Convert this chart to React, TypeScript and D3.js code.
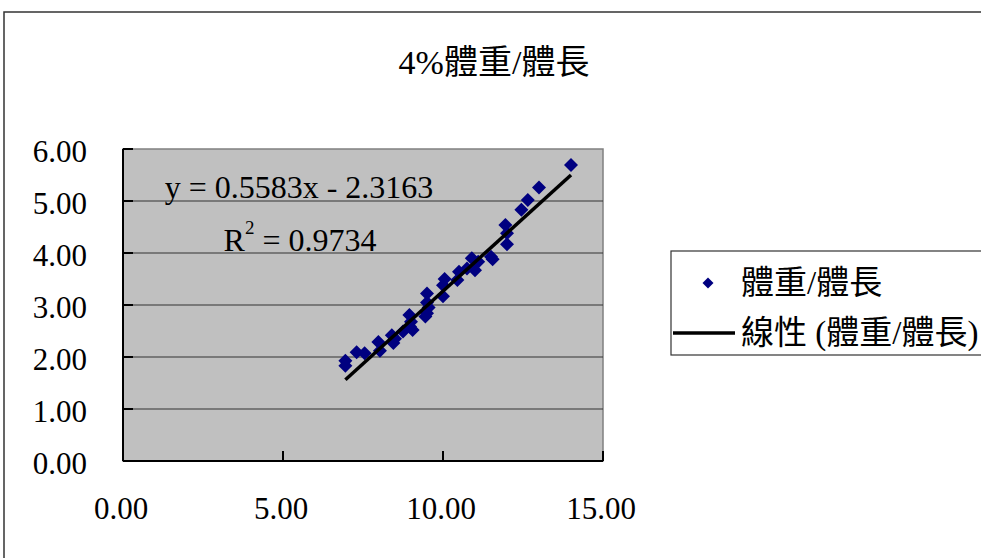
import React from "react";
import * as d3 from "d3";

const chartTitle = "4%體重/體長";
const seriesName = "體重/體長";
const trendName = "線性 (體重/體長)";
const equationText = "y = 0.5583x - 2.3163";
const r2Value = "0.9734";
const slope = 0.5583;
const intercept = -2.3163;

const xValues = [6.95, 6.95, 7.3, 7.55, 7.98, 8.03, 8.4, 8.45, 8.5, 8.75, 8.97, 9.0, 8.95, 9.05, 9.45, 9.5, 9.5, 9.5, 9.55, 10.0, 10.0, 10.05, 10.45, 10.5, 10.75, 11.0, 10.9, 11.1, 11.5, 11.55, 12.0, 12.0, 11.95, 12.45, 12.65, 13.0, 14.0];
const yValues = [1.83, 1.93, 2.09, 2.07, 2.29, 2.12, 2.42, 2.27, 2.35, 2.49, 2.58, 2.68, 2.81, 2.52, 2.78, 2.84, 3.05, 3.22, 2.95, 3.17, 3.38, 3.5, 3.48, 3.64, 3.7, 3.67, 3.9, 3.83, 3.93, 3.88, 4.17, 4.38, 4.54, 4.83, 5.02, 5.26, 5.69];

const xTicks = [0, 5, 10, 15];
const yTicks = [0, 1, 2, 3, 4, 5, 6];

const W = 981;
const H = 558;
const serif = "'Liberation Serif', 'Times New Roman', serif";
const cjk = "'Liberation Serif', 'Noto Sans CJK TC', serif";

function diamond(cx: number, cy: number, r: number) {
  return `M${cx},${cy - r}L${cx + r},${cy}L${cx},${cy + r}L${cx - r},${cy}Z`;
}

export default function App() {
  const x = d3.scaleLinear().domain([0, 15]).range([123, 603]);
  const y = d3.scaleLinear().domain([0, 6]).range([461, 149]);
  const xExt = d3.extent(xValues) as [number, number];
  const trend = d3
    .line<number>()
    .x((d) => x(d))
    .y((d) => y(slope * d + intercept))(xExt);

  return (
    <svg
      width={W}
      height={H}
      style={{ position: "absolute", left: 0, top: 0, background: "#fff" }}
    >
      <rect x={4} y={12} width={1100} height={700} fill="#fff" stroke="#333" strokeWidth={1.5} />
      <text x={494} y={62} textAnchor="middle" dominantBaseline="central" fontFamily={cjk} fontSize={34} fill="#000">
        {chartTitle}
      </text>

      {/* plot area */}
      <rect x={x(0)} y={y(6)} width={x(15) - x(0)} height={y(0) - y(6)} fill="#C0C0C0" stroke="#808080" strokeWidth={1.5} />
      {yTicks.slice(1, -1).map((t) => (
        <line key={"g" + t} x1={x(0)} x2={x(15)} y1={y(t)} y2={y(t)} stroke="#333" strokeWidth={1.2} />
      ))}
      {/* axes */}
      <line x1={x(0)} x2={x(0)} y1={y(6)} y2={y(0)} stroke="#000" strokeWidth={2} />
      <line x1={x(0)} x2={x(15)} y1={y(0)} y2={y(0)} stroke="#000" strokeWidth={2} />
      {yTicks.map((t) => (
        <line key={"yt" + t} x1={x(0)} x2={x(0) + 10} y1={y(t)} y2={y(t)} stroke="#000" strokeWidth={2} />
      ))}
      {xTicks.map((t) => (
        <line key={"xt" + t} x1={x(t)} x2={x(t)} y1={y(0)} y2={y(0) - 10} stroke="#000" strokeWidth={2} />
      ))}
      {yTicks.map((t) => (
        <text key={"yl" + t} x={87} y={y(t) + 2} textAnchor="end" dominantBaseline="central" fontFamily={serif} fontSize={31} fill="#000">
          {t.toFixed(2)}
        </text>
      ))}
      {xTicks.map((t) => (
        <text key={"xl" + t} x={x(t) - 2} y={508} textAnchor="middle" dominantBaseline="central" fontFamily={serif} fontSize={31} fill="#000">
          {t.toFixed(2)}
        </text>
      ))}

      {/* points */}
      {xValues.map((xv, i) => (
        <path key={"p" + i} d={diamond(x(xv), y(yValues[i]), 7)} fill="#000080" />
      ))}
      <path d={trend || ""} stroke="#000" strokeWidth={3.5} fill="none" />

      {/* equation */}
      <text x={299} y={187} textAnchor="middle" dominantBaseline="central" fontFamily={serif} fontSize={32} fill="#000">
        {equationText}
      </text>
      <text x={300} y={240} textAnchor="middle" dominantBaseline="central" fontFamily={serif} fontSize={32} fill="#000">
        R<tspan dy={-13} fontSize={19}>2</tspan>
        <tspan dy={13}> = {r2Value}</tspan>
      </text>

      {/* legend */}
      <rect x={671} y={251} width={330} height={104} fill="#fff" stroke="#333" strokeWidth={1.2} />
      <path d={diamond(708, 283, 5.5)} fill="#000080" />
      <text x={741} y={283} dominantBaseline="central" fontFamily={cjk} fontSize={33} fill="#000">
        {seriesName}
      </text>
      <line x1={673} x2={735} y1={333} y2={333} stroke="#000" strokeWidth={3.5} />
      <text x={741} y={333} dominantBaseline="central" fontFamily={cjk} fontSize={33} fill="#000">
        {trendName}
      </text>
    </svg>
  );
}
